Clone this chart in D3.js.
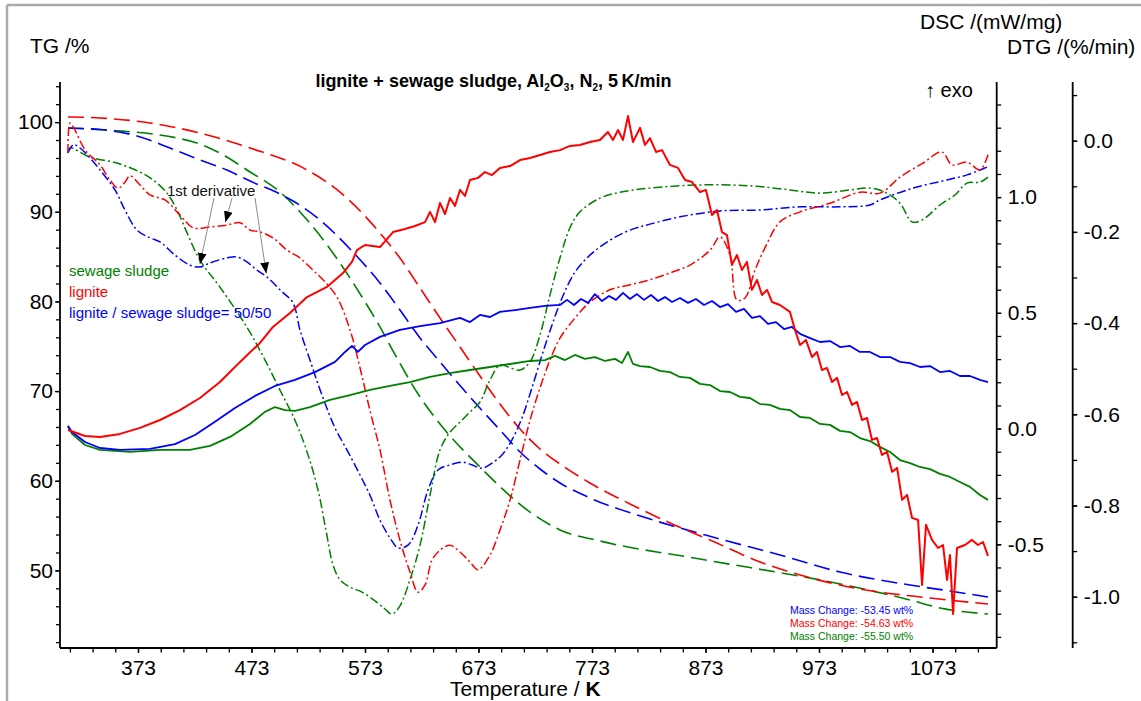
<!DOCTYPE html>
<html>
<head>
<meta charset="utf-8">
<script src="https://cdn.jsdelivr.net/npm/d3@7"></script>
<style>
  body { margin: 0; background: #fff; }
  svg { display: block; }
  text { font-family: "Liberation Sans", Arial, Helvetica, sans-serif; }
</style>
</head>
<body>
<svg id="chart" width="1141" height="701"></svg>
<script>
// ---- measured curves: [temperature K, value] ----
// TG /% (dashed)
const tgLignite = [[311.3,100.57],[339.5,100.46],[383.6,99.90],[427.6,98.78],[471.7,97.11],[521.9,94.66],[551.0,92.20],[586.2,87.63],[603.8,84.84],[621.5,81.50],[639.1,78.15],[656.7,74.92],[674.3,71.68],[691.9,68.56],[709.6,65.77],[727.2,63.54],[744.8,61.87],[771.2,59.75],[806.5,57.41],[841.7,55.29],[877.0,53.39],[921.0,50.94],[956.3,49.49],[1009.1,47.93],[1070.8,46.92],[1121.9,46.25]];
const tgBlend = [[311.3,99.34],[339.5,99.17],[372.1,98.45],[401.2,97.11],[427.6,95.77],[451.4,94.66],[471.7,93.43],[498.1,91.98],[509.6,91.20],[533.4,89.08],[559.8,85.85],[586.2,82.05],[603.8,79.04],[621.5,75.92],[639.1,73.24],[665.5,69.34],[691.9,65.66],[709.6,63.21],[727.2,61.31],[744.8,59.75],[771.2,58.08],[824.1,55.73],[885.8,53.50],[938.6,51.72],[991.5,49.82],[1053.2,48.37],[1088.4,47.70],[1121.9,47.03]];
const tgSludge = [[311.3,99.34],[354.5,99.04],[386.2,98.67],[407.4,98.23],[427.6,97.56],[449.7,96.22],[469.0,94.66],[498.1,92.20],[522.8,88.97],[544.8,85.40],[570.4,80.49],[586.2,77.15],[596.8,74.69],[621.5,69.34],[639.1,66.33],[674.3,61.53],[718.4,56.51],[744.8,54.51],[780.0,53.28],[868.2,51.27],[1000.3,48.26],[1053.2,46.70],[1079.6,45.81],[1121.9,45.14]];

// DTG /(%/min) (dash-dot)
const dtgLignite = [[311.3,-0.027],[313.1,0.039],[317.5,0.023],[326.3,-0.020],[339.5,-0.053],[348.3,-0.086],[355.4,-0.104],[361.5,-0.091],[366.0,-0.077],[374.8,-0.097],[383.6,-0.119],[396.8,-0.130],[410.0,-0.163],[421.5,-0.191],[436.4,-0.189],[451.4,-0.185],[462.9,-0.180],[471.7,-0.196],[480.5,-0.200],[491.9,-0.213],[504.3,-0.240],[515.7,-0.257],[527.2,-0.284],[536.0,-0.305],[548.3,-0.343],[559.8,-0.415],[568.6,-0.498],[577.3,-0.591],[586.2,-0.678],[595.0,-0.788],[603.8,-0.876],[612.6,-0.946],[619.7,-0.990],[625.9,-0.974],[632.0,-0.920],[639.1,-0.898],[647.9,-0.887],[656.7,-0.902],[665.5,-0.924],[672.6,-0.941],[683.1,-0.909],[691.9,-0.854],[700.8,-0.788],[709.6,-0.700],[718.4,-0.613],[727.2,-0.542],[736.0,-0.481],[744.8,-0.433],[758.0,-0.389],[771.2,-0.354],[788.9,-0.327],[806.5,-0.316],[824.1,-0.305],[841.7,-0.290],[859.3,-0.273],[877.0,-0.240],[885.8,-0.211],[894.6,-0.251],[900.7,-0.349],[907.8,-0.345],[916.6,-0.284],[925.4,-0.235],[938.6,-0.178],[956.3,-0.156],[982.7,-0.137],[1009.1,-0.113],[1026.7,-0.115],[1044.4,-0.080],[1064.6,-0.049],[1081.3,-0.025],[1090.2,-0.053],[1103.4,-0.047],[1114.8,-0.064],[1121.9,-0.031]];
const dtgBlend = [[311.3,-0.027],[316.1,-0.009],[321.9,-0.016],[330.7,-0.038],[339.5,-0.064],[352.7,-0.108],[361.5,-0.152],[372.1,-0.196],[383.6,-0.213],[392.4,-0.222],[405.6,-0.251],[418.8,-0.273],[427.6,-0.277],[436.4,-0.268],[451.4,-0.257],[460.2,-0.255],[469.0,-0.266],[477.8,-0.284],[486.7,-0.299],[498.1,-0.327],[509.6,-0.356],[515.7,-0.415],[524.5,-0.481],[535.1,-0.558],[546.6,-0.630],[557.1,-0.678],[568.6,-0.733],[577.3,-0.777],[586.2,-0.832],[595.0,-0.871],[602.1,-0.893],[610.9,-0.887],[619.7,-0.843],[628.5,-0.766],[637.3,-0.722],[647.9,-0.711],[658.5,-0.705],[667.3,-0.711],[676.1,-0.718],[684.9,-0.707],[693.7,-0.689],[702.5,-0.656],[711.3,-0.608],[720.1,-0.542],[729.0,-0.470],[737.8,-0.404],[746.6,-0.345],[758.0,-0.288],[771.2,-0.251],[788.9,-0.218],[806.5,-0.196],[824.1,-0.183],[850.5,-0.167],[885.8,-0.154],[921.0,-0.152],[956.3,-0.145],[991.5,-0.145],[1017.9,-0.141],[1026.7,-0.130],[1055.8,-0.104],[1085.8,-0.086],[1103.4,-0.075],[1121.0,-0.058]];
const dtgSludge = [[311.3,-0.027],[313.1,-0.016],[330.7,-0.036],[354.5,-0.049],[374.8,-0.069],[386.2,-0.086],[398.6,-0.115],[407.4,-0.152],[416.2,-0.202],[427.6,-0.262],[445.2,-0.321],[469.0,-0.409],[484.9,-0.481],[498.1,-0.547],[511.3,-0.613],[522.8,-0.689],[531.6,-0.766],[538.6,-0.854],[544.8,-0.930],[551.0,-0.963],[559.8,-0.979],[570.4,-0.990],[581.8,-1.009],[590.6,-1.027],[596.8,-1.038],[603.8,-1.020],[612.6,-0.963],[621.5,-0.887],[630.3,-0.777],[639.1,-0.678],[647.9,-0.639],[656.7,-0.617],[665.5,-0.595],[674.3,-0.573],[683.1,-0.525],[691.9,-0.492],[700.8,-0.498],[709.6,-0.503],[718.4,-0.485],[727.2,-0.426],[736.0,-0.338],[744.8,-0.257],[753.6,-0.191],[762.4,-0.156],[780.0,-0.126],[797.7,-0.113],[824.1,-0.104],[868.2,-0.097],[912.2,-0.099],[947.4,-0.108],[973.9,-0.115],[1000.3,-0.108],[1017.9,-0.104],[1031.2,-0.113],[1044.4,-0.137],[1054.9,-0.178],[1063.8,-0.174],[1079.6,-0.141],[1092.8,-0.119],[1103.4,-0.093],[1114.8,-0.091],[1121.9,-0.080]];

// DSC /(mW/mg) (solid)
const dscLignite = [[311.3,-0.006],[326.3,-0.032],[339.5,-0.036],[357.1,-0.023],[374.8,0.003],[392.4,0.037],[410.0,0.080],[427.6,0.132],[445.2,0.201],[462.9,0.288],[480.5,0.370],[491.9,0.439],[506.9,0.499],[521.9,0.568],[539.5,0.612],[553.6,0.672],[561.5,0.720],[565.9,0.771],[573.0,0.793],[586.2,0.784],[597.7,0.849],[608.2,0.862],[617.0,0.875],[625.9,0.892],[630.3,0.936],[634.7,0.892],[639.1,0.975],[643.5,0.927],[647.9,0.996],[652.3,0.962],[656.7,1.031],[661.1,1.005],[665.5,1.074],[672.6,1.083],[678.7,1.108],[684.9,1.095],[691.9,1.126],[700.8,1.134],[709.6,1.160],[718.4,1.169],[727.2,1.182],[736.0,1.195],[744.8,1.203],[753.6,1.221],[762.4,1.225],[771.2,1.238],[780.0,1.247],[787.0,1.281],[791.5,1.247],[795.9,1.290],[800.3,1.247],[804.7,1.350],[809.1,1.238],[815.3,1.299],[819.7,1.225],[824.1,1.255],[829.4,1.195],[834.7,1.203],[841.7,1.139],[848.8,1.126],[855.0,1.074],[861.1,1.065],[868.2,1.022],[873.4,1.031],[878.7,0.923],[883.1,0.944],[887.5,0.849],[891.9,0.836],[896.3,0.707],[900.7,0.750],[905.1,0.685],[909.5,0.720],[913.9,0.599],[918.4,0.642],[922.8,0.577],[927.2,0.599],[931.6,0.547],[938.6,0.534],[947.4,0.504],[951.9,0.426],[956.3,0.361],[961.5,0.383],[966.8,0.309],[971.2,0.331],[975.6,0.253],[980.0,0.262],[984.5,0.201],[988.9,0.219],[993.3,0.145],[997.7,0.158],[1002.1,0.102],[1006.5,0.115],[1010.9,0.037],[1015.3,0.046],[1019.7,-0.049],[1024.1,-0.041],[1028.5,-0.114],[1033.0,-0.101],[1037.4,-0.187],[1041.8,-0.170],[1046.2,-0.308],[1050.6,-0.287],[1055.0,-0.386],[1060.3,-0.395],[1063.8,-0.676],[1067.3,-0.416],[1072.6,-0.481],[1077.9,-0.516],[1082.3,-0.503],[1085.8,-0.654],[1088.4,-0.546],[1091.1,-0.801],[1094.6,-0.516],[1101.6,-0.503],[1107.8,-0.481],[1113.1,-0.503],[1117.5,-0.490],[1121.9,-0.550]];
const dscBlend = [[311.3,0.011],[314.9,-0.015],[326.3,-0.058],[339.5,-0.084],[357.1,-0.092],[383.6,-0.088],[405.6,-0.067],[423.2,-0.028],[440.8,0.029],[458.4,0.089],[476.1,0.141],[493.7,0.184],[511.3,0.210],[528.9,0.244],[546.6,0.288],[555.4,0.331],[561.5,0.357],[566.8,0.331],[573.0,0.361],[586.2,0.396],[603.8,0.426],[621.5,0.443],[639.1,0.456],[656.7,0.478],[665.5,0.460],[674.3,0.491],[683.1,0.482],[691.9,0.504],[705.2,0.512],[718.4,0.521],[731.6,0.530],[744.8,0.534],[751.0,0.556],[757.1,0.534],[763.3,0.560],[769.5,0.543],[775.6,0.581],[781.8,0.551],[788.0,0.573],[794.1,0.556],[800.3,0.586],[806.5,0.560],[812.6,0.581],[818.8,0.556],[825.0,0.577],[831.2,0.551],[837.3,0.568],[843.5,0.547],[850.5,0.564],[857.6,0.543],[864.6,0.560],[871.7,0.534],[878.7,0.551],[885.8,0.525],[892.8,0.538],[899.9,0.504],[906.9,0.517],[914.0,0.478],[921.0,0.486],[928.1,0.452],[935.1,0.460],[942.2,0.430],[949.2,0.439],[956.3,0.409],[965.1,0.391],[973.9,0.374],[982.7,0.378],[991.5,0.352],[1000.3,0.357],[1009.1,0.331],[1017.9,0.331],[1026.7,0.309],[1035.6,0.309],[1044.4,0.288],[1053.2,0.283],[1062.0,0.266],[1070.8,0.270],[1079.6,0.244],[1088.4,0.249],[1097.2,0.227],[1106.0,0.227],[1114.8,0.210],[1121.9,0.201]];
const dscSludge = [[311.3,0.011],[314.9,-0.023],[326.3,-0.071],[339.5,-0.092],[366.0,-0.101],[392.4,-0.092],[418.8,-0.092],[436.4,-0.075],[454.1,-0.036],[471.7,0.020],[484.9,0.072],[493.7,0.093],[502.5,0.080],[511.3,0.076],[524.5,0.093],[542.2,0.124],[559.8,0.145],[577.4,0.167],[595.0,0.184],[612.6,0.201],[630.3,0.223],[647.9,0.240],[665.5,0.253],[683.1,0.266],[700.8,0.279],[718.4,0.292],[731.6,0.296],[740.4,0.314],[749.2,0.296],[758.0,0.318],[766.8,0.301],[775.6,0.309],[784.5,0.292],[793.3,0.301],[799.4,0.283],[804.7,0.331],[809.1,0.279],[815.3,0.270],[824.1,0.266],[832.9,0.249],[841.7,0.244],[850.5,0.223],[859.3,0.219],[868.2,0.193],[877.0,0.188],[885.8,0.162],[894.6,0.158],[903.4,0.137],[912.2,0.132],[921.0,0.106],[929.8,0.102],[938.6,0.085],[947.4,0.080],[956.3,0.050],[965.1,0.046],[973.9,0.020],[982.7,0.016],[991.5,-0.010],[1000.3,-0.015],[1009.1,-0.041],[1017.9,-0.054],[1026.7,-0.079],[1035.6,-0.101],[1044.4,-0.136],[1053.2,-0.149],[1062.0,-0.166],[1070.8,-0.175],[1079.6,-0.196],[1088.4,-0.209],[1097.2,-0.231],[1106.0,-0.252],[1114.8,-0.287],[1121.9,-0.308]];

// legend, colours and mass-change results
const sampleNames = ["sewage sludge", "lignite", "lignite / sewage sludge= 50/50"];
const sampleColors = ["#008000", "#ff0000", "#0000ff"];
const massChange = [-53.45, -54.63, -55.50];            // blend, lignite, sludge
const massChangeColors = ["#0000ff", "#ff0000", "#008000"];

// ticks
const tempMajor = [373, 473, 573, 673, 773, 873, 973, 1073];
const tempMinor = d3.range(313, 1114, 20);
const tgMajor = [50, 60, 70, 80, 90, 100];
const tgMinor = d3.range(42, 105, 2);
const dscMajor = [-0.5, 0.0, 0.5, 1.0];
const dscMinor = d3.range(-9, 15).map(v => v / 10);
const dtgMajor = [0.0, -0.2, -0.4, -0.6, -0.8, -1.0];
const dtgMinor = d3.range(-11, 2).map(v => v / 10);

// ---- layout ----
const svg = d3.select("#chart");
const plot = { left: 60, right: 996.7, top: 82, bottom: 648 };
const dtgAxisX = 1072.7;

const x = d3.scaleLinear().domain([373, 1073]).range([138, 932.5]);
const yTG = d3.scaleLinear().domain([100, 50]).range([122.1, 570.4]);
const yDSC = d3.scaleLinear().domain([1, -0.5]).range([197.1, 544.3]);
const yDTG = d3.scaleLinear().domain([0, -1]).range([140.7, 596.7]);

const fmt1 = v => d3.format(".1f")(v).replace("\u2212", "-");

// outer frame (top and left edges)
svg.append("line").attr("x1", 7).attr("y1", 5).attr("x2", 1141).attr("y2", 5)
  .attr("stroke", "#aaaaaa").attr("stroke-width", 2.5);
svg.append("line").attr("x1", 7).attr("y1", 5).attr("x2", 7).attr("y2", 701)
  .attr("stroke", "#aaaaaa").attr("stroke-width", 2.5);

// clip for the curves
svg.append("defs").append("clipPath").attr("id", "plotClip")
  .append("rect").attr("x", plot.left).attr("y", plot.top)
  .attr("width", plot.right - plot.left).attr("height", plot.bottom - plot.top);

const curves = svg.append("g").attr("clip-path", "url(#plotClip)");

function drawSeries(data, yScale, color, dash, width, curve) {
  const line = d3.line().x(d => x(d[0])).y(d => yScale(d[1])).curve(curve);
  curves.append("path").datum(data)
    .attr("fill", "none").attr("stroke", color)
    .attr("stroke-width", width)
    .attr("stroke-dasharray", dash)
    .attr("stroke-linejoin", "round")
    .attr("d", line);
}

const TG_DASH = "16,7";
const DTG_DASH = "9,3,2,3";
// TG
drawSeries(tgSludge, yTG, "#008000", TG_DASH, 1.6, d3.curveMonotoneX);
drawSeries(tgBlend, yTG, "#0000ff", TG_DASH, 1.6, d3.curveMonotoneX);
drawSeries(tgLignite, yTG, "#ff0000", TG_DASH, 1.6, d3.curveMonotoneX);
// DTG
drawSeries(dtgSludge, yDTG, "#008000", DTG_DASH, 1.5, d3.curveCatmullRom.alpha(0.5));
drawSeries(dtgBlend, yDTG, "#0000ff", DTG_DASH, 1.5, d3.curveCatmullRom.alpha(0.5));
drawSeries(dtgLignite, yDTG, "#ff0000", DTG_DASH, 1.5, d3.curveCatmullRom.alpha(0.5));
// DSC
drawSeries(dscSludge, yDSC, "#008000", null, 1.8, d3.curveLinear);
drawSeries(dscBlend, yDSC, "#0000ff", null, 1.8, d3.curveLinear);
drawSeries(dscLignite, yDSC, "#ff0000", null, 2.0, d3.curveLinear);

// ---- axes ----
const AX_FONT = 21;
function styleAxis(g) {
  g.select(".domain").remove();
  g.selectAll(".tick line").attr("stroke", "#000").attr("stroke-width", 1.3);
  g.selectAll(".tick text").attr("font-size", AX_FONT).attr("fill", "#000")
    .attr("font-family", "Liberation Sans, Arial, sans-serif");
}
function axisLine(x1, y1, x2, y2) {
  svg.append("line").attr("x1", x1).attr("y1", y1).attr("x2", x2).attr("y2", y2)
    .attr("stroke", "#000").attr("stroke-width", 1.8);
}

// temperature axis
svg.append("g").attr("transform", `translate(0,${plot.bottom})`)
  .call(d3.axisBottom(x).tickValues(tempMinor).tickSize(4.5).tickFormat("")).call(styleAxis);
svg.append("g").attr("transform", `translate(0,${plot.bottom})`)
  .call(d3.axisBottom(x).tickValues(tempMajor).tickSize(5).tickPadding(7).tickFormat(d3.format("d")))
  .call(styleAxis);
axisLine(plot.left, plot.bottom, plot.right, plot.bottom);

// TG axis
svg.append("g").attr("transform", `translate(${plot.left},0)`)
  .call(d3.axisLeft(yTG).tickValues(tgMinor).tickSize(4).tickFormat("")).call(styleAxis);
svg.append("g").attr("transform", `translate(${plot.left},0)`)
  .call(d3.axisLeft(yTG).tickValues(tgMajor).tickSize(5).tickPadding(2).tickFormat(d3.format("d")))
  .call(styleAxis);
axisLine(plot.left, plot.top, plot.left, plot.bottom);

// DSC axis
svg.append("g").attr("transform", `translate(${plot.right},0)`)
  .call(d3.axisRight(yDSC).tickValues(dscMinor).tickSize(4.5).tickFormat("")).call(styleAxis);
svg.append("g").attr("transform", `translate(${plot.right},0)`)
  .call(d3.axisRight(yDSC).tickValues(dscMajor).tickSize(4.5).tickPadding(6.5).tickFormat(fmt1))
  .call(styleAxis);
axisLine(plot.right, plot.top, plot.right, plot.bottom);

// DTG axis
svg.append("g").attr("transform", `translate(${dtgAxisX},0)`)
  .call(d3.axisRight(yDTG).tickValues(dtgMinor).tickSize(4.5).tickFormat("")).call(styleAxis);
svg.append("g").attr("transform", `translate(${dtgAxisX},0)`)
  .call(d3.axisRight(yDTG).tickValues(dtgMajor).tickSize(4.5).tickPadding(6.5).tickFormat(fmt1))
  .call(styleAxis);
axisLine(dtgAxisX, plot.top, dtgAxisX, plot.bottom);

// axis titles
function label(txt, xx, yy, size, opts = {}) {
  const t = svg.append("text").attr("x", xx).attr("y", yy)
    .attr("font-size", size).attr("fill", opts.fill || "#000")
    .attr("text-anchor", opts.anchor || "start").text(txt);
  if (opts.weight) t.attr("font-weight", opts.weight);
  return t;
}
label("TG /%", 30, 53, AX_FONT);
label("DSC /(mW/mg)", 920, 28.5, AX_FONT);
label("DTG /(%/min)", 1007, 53.5, AX_FONT);
const xt = label("Temperature / ", 450, 696, AX_FONT);
xt.append("tspan").attr("font-weight", "bold").text("K");

// title with subscripts
const title = svg.append("text").attr("x", 493.5).attr("y", 87.3)
  .attr("text-anchor", "middle").attr("font-size", 18).attr("font-weight", "bold").attr("fill", "#000");
const titleParts = [["lignite + sewage sludge, Al", 0], ["2", 1], ["O", 0], ["3", 1], [", N", 0], ["2", 1], [", 5\u2009K/min", 0]];
let shifted = false;
titleParts.forEach(([s, sub]) => {
  const ts = title.append("tspan").text(s);
  if (sub) { ts.attr("font-size", 10).attr("dy", shifted ? 0 : 3.5); shifted = true; }
  else if (shifted) { ts.attr("dy", -3.5); shifted = false; }
});

label("\u2191 exo", 925, 97, 20);

// legend
sampleNames.forEach((n, i) => label(n, 69, 276 + i * 21, 15, { fill: sampleColors[i] }));

// mass change results
massChange.forEach((m, i) => {
  label(`Mass Change: ${d3.format(".2f")(m).replace("\u2212", "-")} wt%`, 790, 614 + i * 13, 10.5,
    { fill: massChangeColors[i] });
});

// "1st derivative" annotation with arrows onto the DTG curves
label("1st derivative", 167, 196, 15, { fill: "#111" });
const defs = svg.select("defs");
defs.append("marker").attr("id", "arrowHead").attr("viewBox", "0 0 10 8")
  .attr("refX", 10).attr("refY", 4).attr("markerWidth", 11).attr("markerHeight", 9)
  .attr("markerUnits", "userSpaceOnUse").attr("orient", "auto")
  .append("path").attr("d", "M0,0 L10,4 L0,8 Z").attr("fill", "#000");

const arrowTargets = [
  { from: [214, 198], series: dtgBlend, T: 427.6 },
  { from: [232, 198], series: dtgLignite, T: 450.0 },
  { from: [255, 198], series: dtgBlend, T: 486.0 }
];
function valueAt(series, T) {
  const i = d3.bisector(d => d[0]).left(series, T);
  const a = series[Math.max(0, i - 1)], b = series[Math.min(series.length - 1, i)];
  if (a[0] === b[0]) return a[1];
  return a[1] + (b[1] - a[1]) * (T - a[0]) / (b[0] - a[0]);
}
arrowTargets.forEach(t => {
  const tx = x(t.T), ty = yDTG(valueAt(t.series, t.T)) - 3;
  svg.append("line").attr("x1", t.from[0]).attr("y1", t.from[1]).attr("x2", tx).attr("y2", ty)
    .attr("stroke", "#8a8a8a").attr("stroke-width", 1).attr("marker-end", "url(#arrowHead)");
});
</script>
</body>
</html>
